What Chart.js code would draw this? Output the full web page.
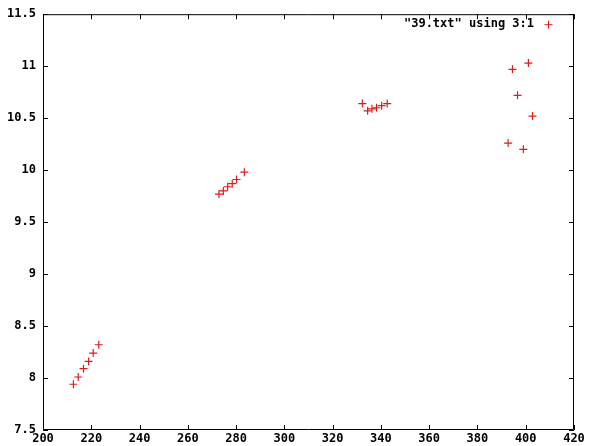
<!DOCTYPE html>
<html>
<head>
<meta charset="utf-8">
<script src="https://cdn.jsdelivr.net/npm/chart.js@4/dist/chart.umd.min.js"></script>
<style>
  body { margin: 0; background: #fff; }
  canvas { display: block; }
</style>
</head>
<body>
<canvas id="plot" width="591" height="446"></canvas>
<script>
// values (column 3 vs column 1 of 39.txt)
const xValues = [212.6, 214.6, 216.8, 218.9, 220.8, 223.1,
                 272.9, 274.7, 276.5, 278.4, 280.2, 283.4,
                 332.3, 334.5, 336.3, 338.2, 340.3, 342.6,
                 394.5, 401.1, 396.6, 402.8, 392.7, 399.0];
const yValues = [7.94, 8.01, 8.09, 8.16, 8.24, 8.32,
                 9.77, 9.80, 9.84, 9.87, 9.91, 9.98,
                 10.64, 10.57, 10.59, 10.60, 10.62, 10.64,
                 10.97, 11.03, 10.72, 10.52, 10.26, 10.20];
const xTicks = [200, 220, 240, 260, 280, 300, 320, 340, 360, 380, 400, 420];
const yTicks = [7.5, 8, 8.5, 9, 9.5, 10, 10.5, 11, 11.5];
const seriesName = '"39.txt" using 3:1';

const red = '#e01b1b';
const font = { family: 'DejaVu Sans Mono', size: 12, weight: 'bold' };

// border, inward ticks on all four sides, and gnuplot style key
const framePlugin = {
  id: 'frame',
  afterDraw(chart) {
    const ctx = chart.ctx;
    const a = chart.chartArea;
    const xs = chart.scales.x, ys = chart.scales.y;
    ctx.save();
    ctx.strokeStyle = '#000';
    ctx.lineWidth = 1;
    ctx.beginPath();
    ctx.rect(a.left + 0.5, a.top + 0.5, a.right - a.left - 1, a.bottom - a.top - 1);
    xs.ticks.forEach(t => {
      const px = Math.round(xs.getPixelForValue(t.value)) + 0.5;
      ctx.moveTo(px, a.bottom); ctx.lineTo(px, a.bottom - 5);
      ctx.moveTo(px, a.top); ctx.lineTo(px, a.top + 5);
    });
    ys.ticks.forEach(t => {
      const py = Math.round(ys.getPixelForValue(t.value)) + 0.5;
      ctx.moveTo(a.left, py); ctx.lineTo(a.left + 5, py);
      ctx.moveTo(a.right, py); ctx.lineTo(a.right - 5, py);
    });
    ctx.stroke();

    // key
    ctx.font = 'bold 12px "DejaVu Sans Mono"';
    ctx.fillStyle = '#000';
    ctx.textAlign = 'right';
    ctx.textBaseline = 'middle';
    ctx.fillText(chart.data.datasets[0].label, a.right - 40, a.top + 10);
    ctx.strokeStyle = red;
    ctx.beginPath();
    const kx = a.right - 25.5, ky = a.top + 10.5;
    ctx.moveTo(kx - 4, ky); ctx.lineTo(kx + 4, ky);
    ctx.moveTo(kx, ky - 4); ctx.lineTo(kx, ky + 4);
    ctx.stroke();
    ctx.restore();
  }
};

new Chart(document.getElementById('plot'), {
  type: 'scatter',
  data: {
    datasets: [{
      label: seriesName,
      data: xValues.map((x, i) => ({ x: x, y: yValues[i] })),
      pointStyle: 'cross',
      pointRadius: 4,
      borderColor: red,
      backgroundColor: red,
      borderWidth: 1.2
    }]
  },
  options: {
    responsive: false,
    animation: false,
    layout: { padding: { top: 10, right: 17, left: 0, bottom: 0 } },
    plugins: { legend: { display: false }, tooltip: { enabled: false } },
    scales: {
      x: {
        type: 'linear',
        min: 200, max: 420,
        afterBuildTicks: s => { s.ticks = xTicks.map(v => ({ value: v })); },
        afterFit: s => { s.height = 16; },
        grid: { display: false, drawTicks: false },
        border: { display: false },
        ticks: { color: '#000', font: font, padding: 2, maxRotation: 0, autoSkip: false,
                 callback: v => String(v) }
      },
      y: {
        type: 'linear',
        min: 7.5, max: 11.5,
        afterBuildTicks: s => { s.ticks = yTicks.map(v => ({ value: v })); },
        afterFit: s => { s.width = 43; },
        grid: { display: false, drawTicks: false },
        border: { display: false },
        ticks: { color: '#000', font: font, padding: 7, autoSkip: false,
                 callback: v => String(v) }
      }
    }
  },
  plugins: [framePlugin]
});
</script>
</body>
</html>
